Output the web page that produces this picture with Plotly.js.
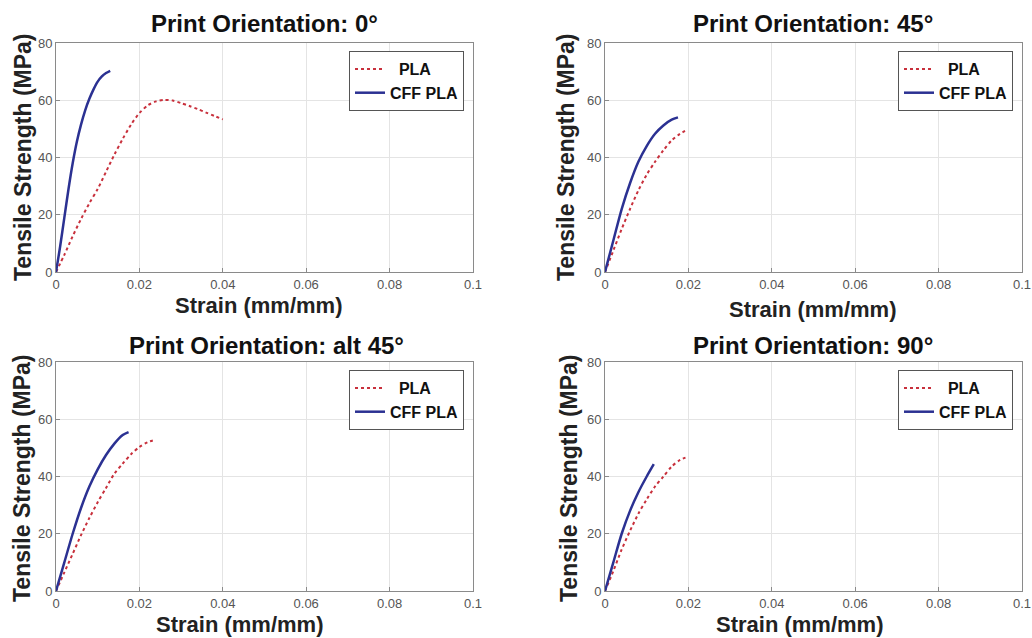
<!DOCTYPE html>
<html>
<head>
<meta charset="utf-8">
<script src="https://cdn.plot.ly/plotly-3.0.1.min.js"></script>
<style>html,body{margin:0;padding:0;background:#fff;}#chart{width:1032px;height:638px;}</style>
</head>
<body>
<div id="chart"></div>
<script>
// ---- Data ----
const panelTitles = ["Print Orientation: 0°", "Print Orientation: 45°", "Print Orientation: alt 45°", "Print Orientation: 90°"];
const seriesNames = ["PLA", "CFF PLA"];

// 0°
const pla0Strain = [0, 0.002, 0.004, 0.006, 0.008, 0.010, 0.012, 0.014, 0.016, 0.018, 0.020, 0.022, 0.024, 0.026, 0.028, 0.030, 0.032, 0.034, 0.036, 0.038, 0.040];
const pla0Stress = [0, 6, 12.5, 18.5, 24, 29, 35, 41, 46.5, 51.5, 55.5, 58.2, 59.6, 60.1, 59.9, 59.0, 58.0, 56.9, 55.7, 54.5, 53.3];
const cff0Strain = [0, 0.001, 0.002, 0.003, 0.004, 0.005, 0.006, 0.007, 0.008, 0.009, 0.010, 0.011, 0.012, 0.013];
const cff0Stress = [0, 9, 19, 29, 38, 45.5, 51.5, 56.5, 60.5, 63.8, 66.5, 68.3, 69.5, 70.3];

// 45°
const pla45Strain = [0, 0.002, 0.004, 0.006, 0.008, 0.010, 0.012, 0.014, 0.016, 0.018, 0.0195];
const pla45Stress = [0, 7.5, 15, 22, 28.5, 34, 38.5, 42.5, 46, 48.3, 49.5];
const cff45Strain = [0, 0.002, 0.004, 0.006, 0.008, 0.010, 0.012, 0.014, 0.016, 0.0175];
const cff45Stress = [0, 11, 22, 31, 38.5, 44, 48.3, 51.2, 53.2, 54];

// alt 45°
const plaAltStrain = [0, 0.002, 0.004, 0.006, 0.008, 0.010, 0.012, 0.014, 0.016, 0.018, 0.020, 0.022, 0.0235];
const plaAltStress = [0, 6.5, 13, 19.5, 25.5, 31, 36, 41, 44.5, 47.8, 50.3, 52, 52.7];
const cffAltStrain = [0, 0.002, 0.004, 0.006, 0.008, 0.010, 0.012, 0.014, 0.016, 0.0174];
const cffAltStress = [0, 10, 20, 29, 36.5, 42.5, 47.5, 51.5, 54.5, 55.5];

// 90°
const pla90Strain = [0, 0.002, 0.004, 0.006, 0.008, 0.010, 0.012, 0.014, 0.016, 0.018, 0.0193];
const pla90Stress = [0, 7, 14.5, 21, 27, 32, 36.5, 40, 43.5, 45.8, 46.6];
const cff90Strain = [0, 0.002, 0.004, 0.006, 0.008, 0.010, 0.0117];
const cff90Stress = [0, 10, 20, 28, 34.5, 40, 44.3];

const xTickVals = [0, 0.02, 0.04, 0.06, 0.08, 0.1];
const xTickText = ["0", "0.02", "0.04", "0.06", "0.08", "0.1"];
const yTickVals = [0, 20, 40, 60, 80];
const yTickText = ["0", "20", "40", "60", "80"];

// ---- Styling / layout ----
const RED = "#c8303c";
const BLUE = "#2b3192";
const FONT = "Liberation Sans, Arial, sans-serif";
const W = 1032, H = 638;

const panels = [
  {pla: [pla0Strain, pla0Stress], cff: [cff0Strain, cff0Stress], px: [56, 473], py: [43, 272]},
  {pla: [pla45Strain, pla45Stress], cff: [cff45Strain, cff45Stress], px: [605, 1022], py: [43, 272]},
  {pla: [plaAltStrain, plaAltStress], cff: [cffAltStrain, cffAltStress], px: [56, 473], py: [362, 591]},
  {pla: [pla90Strain, pla90Stress], cff: [cff90Strain, cff90Stress], px: [605, 1022], py: [362, 591]}
];
const titlePos = [[264, 23], [813, 23], [266, 345], [813, 345]];
const yTitlePos = [[23, 157], [566, 157], [22, 478], [569, 478]];
const xTitlePos = [[258, 305], [812, 309], [239, 624], [799, 624]];
const legendPos = [[464, 51], [1013, 51], [464, 370], [1013, 370]];

const traces = [];
const layout = {
  width: W, height: H,
  margin: {l: 0, r: 0, t: 0, b: 0},
  paper_bgcolor: "#fff", plot_bgcolor: "#fff",
  font: {family: FONT, color: "#222"},
  annotations: []
};

panels.forEach((p, i) => {
  const n = i === 0 ? "" : String(i + 1);
  const xa = "x" + n, ya = "y" + n;
  const leg = i === 0 ? "legend" : "legend" + (i + 1);
  traces.push({
    x: p.pla[0], y: p.pla[1], xaxis: xa, yaxis: ya, type: "scatter", mode: "lines",
    name: "\u00a0\u00a0" + seriesNames[0], legend: leg,
    line: {color: RED, width: 2, dash: "dot", shape: "spline", smoothing: 0.8}
  });
  traces.push({
    x: p.cff[0], y: p.cff[1], xaxis: xa, yaxis: ya, type: "scatter", mode: "lines",
    name: seriesNames[1], legend: leg,
    line: {color: BLUE, width: 2.5, shape: "spline", smoothing: 0.8}
  });
  const axCommon = {
    showline: true, mirror: true, linecolor: "#8a8a8a", linewidth: 1,
    showgrid: true, gridcolor: "#e4e4e4", gridwidth: 1,
    zeroline: false, ticks: "inside", ticklen: 4, tickcolor: "#8a8a8a",
    tickfont: {family: FONT, size: 13, color: "#555"}
  };
  layout["xaxis" + n] = Object.assign({}, axCommon, {
    domain: [p.px[0] / W, p.px[1] / W], range: [0, 0.1], anchor: ya,
    tickvals: xTickVals, ticktext: xTickText
  });
  layout["yaxis" + n] = Object.assign({}, axCommon, {
    domain: [1 - p.py[1] / H, 1 - p.py[0] / H], range: [0, 80], anchor: xa,
    tickvals: yTickVals, ticktext: yTickText
  });
  layout[leg] = {
    x: legendPos[i][0] / W, y: 1 - legendPos[i][1] / H, xanchor: "right", yanchor: "top",
    xref: "paper", yref: "paper",
    bgcolor: "#fff", bordercolor: "#555", borderwidth: 1,
    font: {family: FONT, size: 16, color: "#111", weight: "bold"},
    itemwidth: 30, tracegroupgap: 0
  };
  layout.annotations.push({
    text: "<b>" + panelTitles[i] + "</b>", xref: "paper", yref: "paper",
    x: titlePos[i][0] / W, y: 1 - titlePos[i][1] / H, xanchor: "center", yanchor: "middle",
    showarrow: false, font: {family: FONT, size: 24, color: "#111"}
  });
  layout.annotations.push({
    text: "<b>Tensile Strength (MPa)</b>", xref: "paper", yref: "paper", textangle: -90,
    x: yTitlePos[i][0] / W, y: 1 - yTitlePos[i][1] / H, xanchor: "center", yanchor: "middle",
    showarrow: false, font: {family: FONT, size: 23, color: "#222"}
  });
  layout.annotations.push({
    text: "<b>Strain (mm/mm)</b>", xref: "paper", yref: "paper",
    x: xTitlePos[i][0] / W, y: 1 - xTitlePos[i][1] / H, xanchor: "center", yanchor: "middle",
    showarrow: false, font: {family: FONT, size: 22, color: "#222"}
  });
});

Plotly.newPlot("chart", traces, layout, {displayModeBar: false, staticPlot: true});
</script>
</body>
</html>
